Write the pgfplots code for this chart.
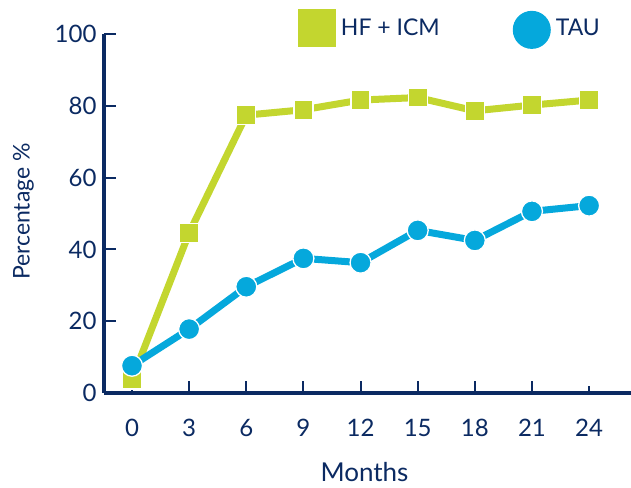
\documentclass[border=0pt]{standalone}
\usepackage{pgfplots}
\pgfplotsset{compat=1.18}
\usepackage{fontspec}
\setmainfont{Lato}

\definecolor{navy}{HTML}{0B2A62}
\definecolor{lime}{HTML}{C3D62F}
\definecolor{sky}{HTML}{05A8DC}

\pgfplotstableread{
month hf  tau
0     3.8  7.6
3     44.6 17.8
6     77.4 29.6
9     78.9 37.5
12    81.6 36.3
15    82.3 45.3
18    78.6 42.5
21    80.2 50.6
24    81.6 52.2
}\results

\begin{document}
\begin{tikzpicture}
\begin{axis}[
  scale only axis,
  width=527pt, height=359pt,
  xmin=-1.47, xmax=26.2,
  ymin=0, ymax=100,
  axis x line=bottom, axis y line=left,
  axis line style={-, line width=3.5pt, draw=navy},
  xtick={0,3,...,24},
  ytick={0,20,...,100},
  tick align=inside,
  major tick length=12pt,
  tick style={line width=2pt, draw=navy},
  x tick style={shorten >=5pt},
  /pgf/number format/assume math mode=true,
  ticklabel style={font=\fontsize{24}{28}\selectfont, text=navy},
  xticklabel style={yshift=-23pt},
  yticklabel style={xshift=-4pt},
  xlabel={Months},
  ylabel={Percentage \%},
  label style={text=navy},
  xlabel style={font=\fontsize{26}{30}\selectfont, yshift=-18pt, xshift=-3pt},
  ylabel style={font=\fontsize{23}{27}\selectfont, yshift=14pt, xshift=2pt},
  legend columns=2,
  legend style={at={(0.368,1.070)}, anchor=north west, draw=none, fill=none,
    inner sep=0pt, outer sep=0pt,
    font=\fontsize{23}{27}\selectfont, text=navy,
    nodes={inner sep=0pt},
    /tikz/every odd column/.append style={column sep=5pt},
    /tikz/every even column/.append style={column sep=73pt}},
  clip=false,
]
\addplot[lime, line width=7pt, mark=square*,
  mark options={fill=lime, draw=white, line width=1.3pt, mark size=9.5pt},
  legend image code/.code={\fill[lime] (0pt,-15.5pt) rectangle (31pt,15.5pt);}]
  table[x=month, y=hf] {\results};
\addlegendentry{HF + ICM}
\addplot[sky, line width=7pt, mark=*,
  mark options={fill=sky, draw=white, line width=1.3pt, mark size=10.5pt},
  legend image code/.code={\fill[sky] (15.5pt,-2pt) circle (15.5pt);}]
  table[x=month, y=tau] {\results};
\addlegendentry{TAU}
\end{axis}
\pgfresetboundingbox
\path[use as bounding box] (-104pt,-94pt) rectangle (527pt,393pt);
\end{tikzpicture}
\end{document}
